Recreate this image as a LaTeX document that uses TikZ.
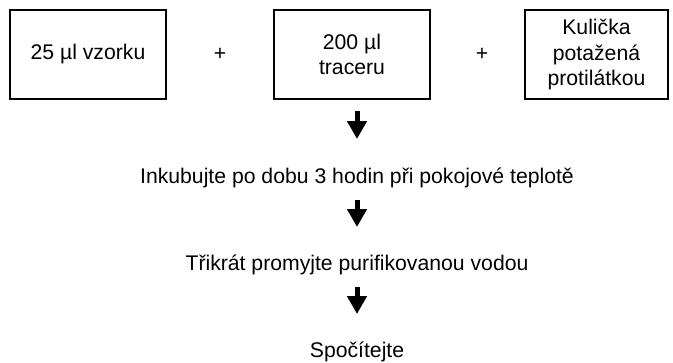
\documentclass[tikz,border=0pt]{standalone}
\usepackage{fontspec}
\setmainfont{Liberation Sans}
\usetikzlibrary{arrows.meta,positioning,calc}

\begin{document}
\begin{tikzpicture}[
  x=0.75pt, y=0.75pt,
  font=\fontsize{15.9}{19.2}\selectfont,
  box/.style={rectangle, draw, line width=1.5pt, align=center, minimum width=117pt, minimum height=66.75pt, inner sep=0pt},
  plus/.style={inner sep=0pt},
  stepnode/.style={anchor=base, inner sep=0pt},
  flow/.style={line width=3.75pt, -{Triangle[width=14.25pt, length=13.5pt]}}
]
\useasboundingbox (0,0) rectangle (673,362);

\node[box] (sample) at (88,307.5) {25 µl vzorku};
\node[box, right=79.5pt of sample] (tracer) {200 µl\\traceru};
\node[box, right=69.75pt of tracer, minimum width=107.25pt] (bead) {Kulička\\potažená\\protilátkou};

\node[plus] (plusa) at ($(sample.east)!0.5!(tracer.west)$) {+};
\node[plus] (plusb) at ($(tracer.east)!0.55!(bead.west)$) {+};

\node[stepnode] (incub) at (357,179) {Inkubujte po dobu 3 hodin při pokojové teplotě};
\node[stepnode, below=65.25pt of incub.base, anchor=base] (wash) {Třikrát promyjte purifikovanou vodou};
\node[stepnode, below=65.25pt of wash.base, anchor=base] (count) {Spočítejte};

\draw[flow] ($(tracer.south -| incub.base)+(0,-11)$) -- ($(incub.base)+(0,44)$);
\draw[flow] ($(incub.base)+(0,-17)$) -- ($(wash.base)+(0,43)$);
\draw[flow] ($(wash.base)+(0,-17)$) -- ($(count.base)+(0,43)$);

\end{tikzpicture}
\end{document}
